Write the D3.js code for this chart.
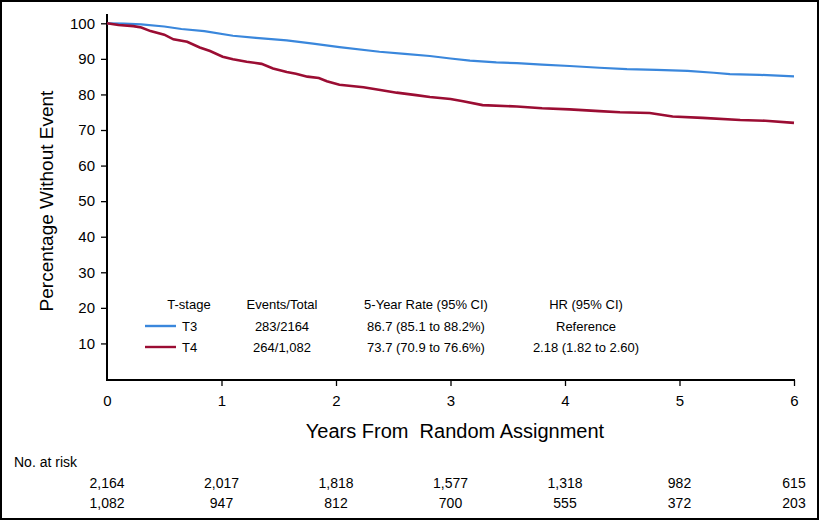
<!DOCTYPE html>
<html><head><meta charset="utf-8">
<script src="https://cdn.jsdelivr.net/npm/d3@7"></script>
<style>body{margin:0;background:#fff}svg{display:block;font-family:"Liberation Sans",Arial,sans-serif}</style>
</head><body><svg id="c" width="819" height="520"></svg>
<script>
const t3Years = [0,0.15,0.3,0.5,0.65,0.85,1.1,1.3,1.57,1.8,2.03,2.38,2.6,2.82,3.0,3.17,3.4,3.58,3.8,4.04,4.3,4.54,4.8,5.07,5.3,5.44,5.7,6.0];
const t3Values = [100,99.9,99.7,99.1,98.4,97.8,96.5,95.9,95.2,94.3,93.3,92.0,91.4,90.8,90.1,89.5,89.0,88.8,88.4,88.0,87.5,87.1,86.9,86.6,86.1,85.7,85.5,85.1];
const t4Years = [0,0.1,0.23,0.3,0.38,0.5,0.58,0.7,0.81,0.9,1.01,1.1,1.22,1.35,1.45,1.57,1.65,1.75,1.85,1.92,2.03,2.24,2.4,2.53,2.7,2.82,3.0,3.11,3.28,3.58,3.8,4.04,4.3,4.48,4.74,4.94,5.2,5.53,5.75,6.0];
const t4Values = [100,99.5,99.2,98.8,97.8,96.8,95.5,94.8,93.2,92.2,90.6,89.9,89.2,88.6,87.3,86.3,85.8,85.0,84.6,83.7,82.7,82.0,81.2,80.5,79.8,79.3,78.7,78.1,77.0,76.6,76.1,75.8,75.3,75.0,74.8,73.8,73.4,72.8,72.6,72.0];
const xTicks = [0,1,2,3,4,5,6];
const yTicks = [10,20,30,40,50,60,70,80,90,100];
const riskT3 = ["2,164","2,017","1,818","1,577","1,318","982","615"];
const riskT4 = ["1,082","947","812","700","555","372","203"];
const legendHeaders = ["T-stage","Events/Total","5-Year Rate (95% CI)","HR (95% CI)"];
const legendRows = [
  {name:"T3", events:"283/2164", rate:"86.7 (85.1 to 88.2%)", hr:"Reference"},
  {name:"T4", events:"264/1,082", rate:"73.7 (70.9 to 76.6%)", hr:"2.18 (1.82 to 2.60)"}
];
const colors = {T3:"#3a87dc", T4:"#9b0d33"};

const svg = d3.select("#c");
svg.append("rect").attr("x",1).attr("y",1).attr("width",817).attr("height",518)
  .attr("fill","#fff").attr("stroke","#000").attr("stroke-width",2);

const x = d3.scaleLinear().domain([0,6]).range([107,794]);
const y = d3.scaleLinear().domain([0,100]).range([379,23.3]);

// y axis
const ya = svg.append("g").attr("transform","translate(107,0)")
  .call(d3.axisLeft(y).tickValues(yTicks).tickFormat(d3.format("d")).tickSize(6).tickPadding(6).tickSizeOuter(0));
ya.select(".domain").remove();
ya.append("line").attr("x1",0).attr("x2",0).attr("y1",380).attr("y2",14).attr("stroke","#000").attr("stroke-width",2);
ya.selectAll(".tick line").attr("stroke-width",1.3);
ya.selectAll(".tick text").attr("font-size",15).attr("fill","#000").attr("font-family","Liberation Sans,Arial,sans-serif");

// x axis
const xa = svg.append("g").attr("transform","translate(0,380)")
  .call(d3.axisBottom(x).tickValues(xTicks).tickFormat(d3.format("d")).tickSize(6).tickPadding(9).tickSizeOuter(0));
xa.select(".domain").remove();
xa.append("line").attr("x1",106).attr("x2",795).attr("y1",0).attr("y2",0).attr("stroke","#000").attr("stroke-width",2.2);
xa.selectAll(".tick line").attr("stroke-width",1.3);
xa.selectAll(".tick text").attr("font-size",15).attr("fill","#000").attr("font-family","Liberation Sans,Arial,sans-serif");
xa.selectAll(".tick").filter(d=>d===0).select("line").remove();

// titles
svg.append("text").attr("transform","translate(53,201) rotate(-90)").attr("text-anchor","middle")
  .attr("font-size",19).text("Percentage Without Event");
svg.append("text").attr("x",455).attr("y",438).attr("text-anchor","middle")
  .attr("font-size",20).style("white-space","pre").text("Years From  Random Assignment");

// curves
const line = d3.line().x(d=>x(d[0])).y(d=>y(d[1])).curve(d3.curveLinear);
svg.append("path").datum(t3Years.map((t,i)=>[t,t3Values[i]]))
  .attr("d",line).attr("fill","none").attr("stroke",colors.T3).attr("stroke-width",2.2);
svg.append("path").datum(t4Years.map((t,i)=>[t,t4Values[i]]))
  .attr("d",line).attr("fill","none").attr("stroke",colors.T4).attr("stroke-width",2.6);

// legend table
const colX = [189,282,426,586];
legendHeaders.forEach((h,i)=>{
  svg.append("text").attr("x",colX[i]).attr("y",309).attr("text-anchor","middle").attr("font-size",13).text(h);
});
legendRows.forEach((r,j)=>{
  const yy = 331 + j*21;
  svg.append("line").attr("x1",145).attr("x2",176).attr("y1",yy-5).attr("y2",yy-5)
    .attr("stroke",colors[r.name]).attr("stroke-width",2.4);
  svg.append("text").attr("x",182).attr("y",yy).attr("font-size",13).text(r.name);
  svg.append("text").attr("x",colX[1]).attr("y",yy).attr("text-anchor","middle").attr("font-size",13).text(r.events);
  svg.append("text").attr("x",colX[2]).attr("y",yy).attr("text-anchor","middle").attr("font-size",13).text(r.rate);
  svg.append("text").attr("x",colX[3]).attr("y",yy).attr("text-anchor","middle").attr("font-size",13).text(r.hr);
});

// at risk
svg.append("text").attr("x",14).attr("y",467).attr("font-size",14).text("No. at risk");
[riskT3,riskT4].forEach((row,j)=>{
  svg.selectAll(null).data(row).enter().append("text")
    .attr("x",(d,i)=>x(xTicks[i])).attr("y",488+j*20).attr("text-anchor","middle")
    .attr("font-size",14).text(d=>d);
});
</script></body></html>
